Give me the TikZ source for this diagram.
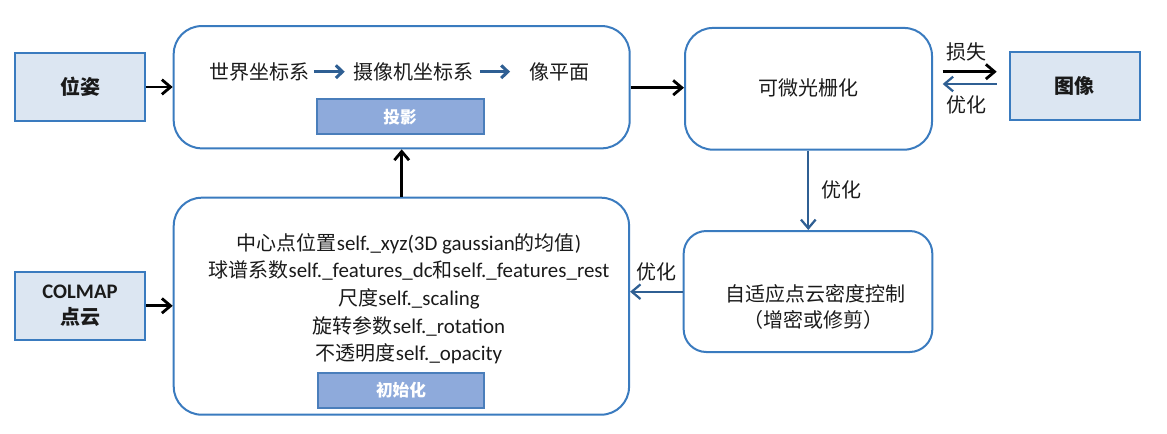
\documentclass[tikz,border=0pt]{standalone}
\usepackage{fontspec}
\setmainfont{Carlito}
\newfontfamily\cjk{Noto Sans CJK SC}
\usetikzlibrary{arrows.meta,calc}
\definecolor{bdr}{HTML}{3A7BBF}
\definecolor{lightfill}{HTML}{DCE6F2}
\definecolor{tagfill}{HTML}{8EAADB}
\definecolor{tagbdr}{HTML}{4A7EBB}
\definecolor{arrblue}{HTML}{2F5F93}
\definecolor{txtc}{HTML}{1A1A1A}
\newcommand\zh[1]{{\cjk\fontsize{15}{18}\selectfont #1}}
\tikzset{
  lightbox/.style={draw=bdr, fill=lightfill, line width=1.5pt, text=txtc,
    minimum width=97.5pt, minimum height=51pt, inner sep=0pt, align=center,
    font=\fontsize{15.5}{20}\selectfont},
  bigbox/.style={draw=bdr, line width=1.5pt, rounded corners=21pt, inner sep=0pt},
  midbox/.style={draw=bdr, line width=1.5pt, rounded corners=17pt, inner sep=0pt},
  tagbox/.style={draw=tagbdr, fill=tagfill, line width=1.5pt, text=white, inner sep=0pt,
    minimum height=26pt, font=\cjk\bfseries\fontsize{12.5}{15}\selectfont},
  txt/.style={text=txtc, inner sep=0pt, font=\fontsize{15.7}{18}\selectfont},
  ztxt/.style={text=txtc, inner sep=0pt, font=\cjk\fontsize{15}{18}\selectfont},
  blk/.style={draw=black, line width=2.1pt, -{Straight Barb[length=6.5pt,width=11pt]}},
  blu/.style={draw=arrblue, line width=1.7pt, -{Straight Barb[length=6.5pt,width=11pt]}},
  inarr/.style={draw=arrblue, line width=2.3pt, -{Straight Barb[length=5pt,width=9.5pt]}}
}
\begin{document}
\begin{tikzpicture}[x=0.75pt,y=-0.75pt]
\useasboundingbox (0,0) rectangle (1167,433);

% boxes
\node[lightbox] (pose) at (80,87) {\zh{\bfseries 位姿}};
\node[bigbox, minimum width=342pt, minimum height=91.7pt] (top) at (401.7,87.2) {};
\node[tagbox, minimum width=125.25pt] (proj) at (400,116.7) {投影};
\node[bigbox, minimum width=185.25pt, minimum height=91.3pt] (rast) at (808.5,88.8) {};
\node[lightbox] (img) at (1074.7,86) {\zh{\bfseries 图像}};
\node[midbox, minimum width=186.5pt, minimum height=90.75pt] (adapt) at (808,291.5) {};
\node[bigbox, minimum width=341.5pt, minimum height=162.75pt] (bot) at (401.4,306.2) {};
\node[tagbox, minimum width=124.5pt] (init) at (401,390.3) {初始化};
\node[lightbox, minimum height=50.8pt] (colmap) at (80,305.8) {\textbf{COLMAP}\\\zh{\bfseries 点云}};

% top box text
\node[ztxt] (w1) at (259,71.7) {世界坐标系};
\node[ztxt] (w2) at (413,71.7) {摄像机坐标系};
\node[ztxt] (w3) at (559,71.7) {像平面};
\draw[inarr, shorten <=3.5pt, shorten >=6pt] (w1.east) -- (w2.west);
\draw[inarr, shorten <=5pt, shorten >=14pt] (w2.east) -- (w3.west);

% rasterizer text
\node[ztxt] (rt) at (808,88) {可微光栅化};

% adaptive text
\node[ztxt] (a1) at (815,294) {自适应点云密度控制};
\node[ztxt] (a2) at (813,320) {（增密或修剪）};

% bottom box text
\node[txt, anchor=base] (l1) at (409,250) {\zh{中心点位置}self.\_xyz(3D gaussian\zh{的均值})};
\node[txt, anchor=base] (l2) at (409,277.7) {\zh{球谱系数}self.\_features\_dc\zh{和}self.\_features\_rest};
\node[txt, anchor=base] (l3) at (409,305) {\zh{尺度}self.\_scaling};
\node[txt, anchor=base] (l4) at (409,333) {\zh{旋转参数}self.\_rotation};
\node[txt, anchor=base] (l5) at (409,360) {\zh{不透明度}self.\_opacity};

% connectors
\draw[blk] (pose.east) -- (top.west |- pose.east);
\draw[blk] (top.east |- 0,87.7) -- (rast.west |- 0,87.7);
\draw[blk] (colmap.east) -- (bot.west |- colmap.east);
\draw[blk] (bot.north -| 401.7,0) -- (top.south -| 401.7,0);

\coordinate (lossA) at (942.7,71.7);
\coordinate (lossB) at (996.7,71.7);
\coordinate (optA) at (996.7,84);
\coordinate (optB) at (942.7,84);
\draw[blk] (lossA) -- (lossB);
\draw[blu] (optA) -- (optB);
\node[ztxt] (lossl) at (966.7,51.7) {损失};
\node[ztxt] (optl1) at (966.7,105) {优化};

\draw[blu] (rast.south -| 808.3,0) -- (adapt.north -| 808.3,0);
\node[ztxt] (optl2) at (841.7,190) {优化};

\draw[blu] (adapt.west |- 0,291.7) -- (bot.east |- 0,291.7);
\node[ztxt] (optl3) at (656.7,271.7) {优化};
\end{tikzpicture}
\end{document}
